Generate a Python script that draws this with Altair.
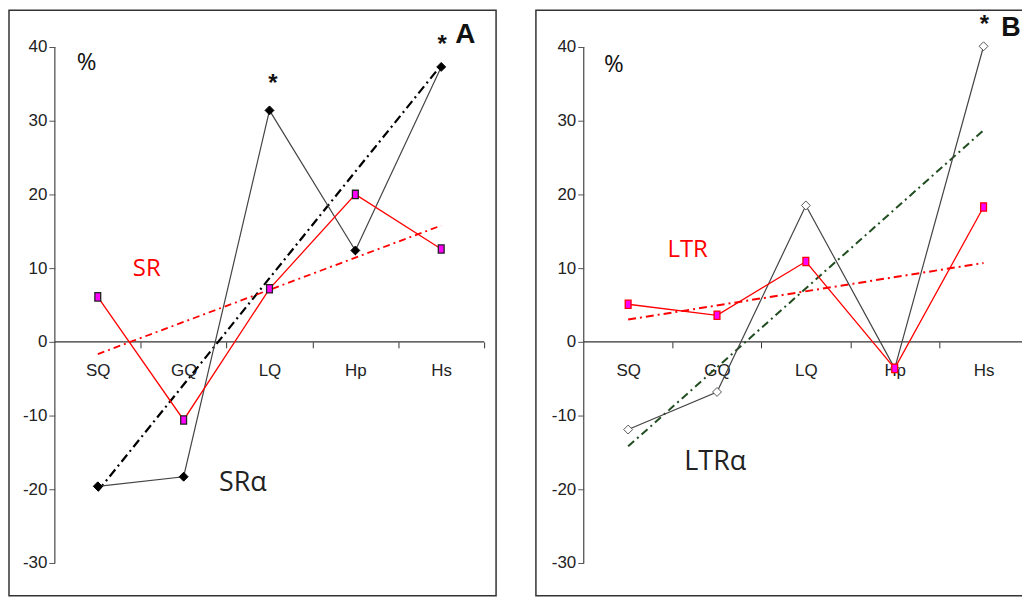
import altair as alt
import pandas as pd

categories = ["SQ", "GQ", "LQ", "Hp", "Hs"]
positions = [1, 2, 3, 4, 5]

sr_alpha = [-19.6, -18.3, 31.4, 12.4, 37.3]
sr = [6.1, -10.6, 7.2, 20.0, 12.6]
ltr_alpha = [-11.9, -6.8, 18.5, -3.6, 40.1]
ltr = [5.1, 3.6, 10.9, -3.6, 18.3]

y_ticks = [-30, -20, -10, 0, 10, 20, 30, 40]
band_edges = [1.5, 2.5, 3.5, 4.5, 5.5]

AXIS_FONT = "Liberation Sans"
TEXT_FONT = "Open Sans"

label_expr = "[" + ",".join("'%s'" % c for c in categories) + "][round(datum.value - 1.5)]"


def make_panel(alpha_vals, plain_vals, alpha_style, plain_style, texts,
               xdom, ydom, width, height, y_off, x_off, band_px):
    xaxis = alt.Axis(values=band_edges, labelExpr=label_expr, labelOffset=-band_px / 2,
                     tickSize=6, tickColor="#333", labelPadding=15, labelFont=AXIS_FONT,
                     labelFontSize=17, labelColor="#222", domain=False, grid=False,
                     labelFlush=False, labelOverlap=False, offset=x_off, title="")
    yaxis = alt.Axis(values=y_ticks, labelExpr="'' + datum.value", tickSize=6, tickColor="#555",
                     labelPadding=2, labelFont=AXIS_FONT, labelFontSize=17, labelColor="#222",
                     domain=False, grid=False, offset=y_off, title="")
    X = alt.X("x:Q", scale=alt.Scale(domain=xdom, nice=False, zero=False), axis=xaxis)
    Y = alt.Y("y:Q", scale=alt.Scale(domain=ydom, nice=False, zero=False), axis=yaxis)

    yrule = alt.Chart(pd.DataFrame({"x": [0.5], "y": [min(y_ticks)], "y2": [max(y_ticks)]})).mark_rule(
        color="#555", strokeWidth=1.3).encode(x=X, y=Y, y2="y2:Q")
    zrule = alt.Chart(pd.DataFrame({"x": [0.5], "x2": [5.5], "y": [0]})).mark_rule(
        color="#333", strokeWidth=1.3).encode(x=X, x2="x2:Q", y=Y)

    layers = [yrule, zrule]
    dfa = pd.DataFrame({"x": positions, "y": alpha_vals})
    dfp = pd.DataFrame({"x": positions, "y": plain_vals})

    # trend lines (linear regression of each series)
    for df, st in ((dfa, alpha_style), (dfp, plain_style)):
        layers.append(alt.Chart(df).transform_regression("x", "y").mark_line(
            color=st["trend_color"], strokeWidth=st["trend_width"], strokeDash=st["dash"]
        ).encode(x=X, y=Y))
    # data lines
    layers.append(alt.Chart(dfa).mark_line(color=alpha_style["line"], strokeWidth=1.2).encode(x=X, y=Y))
    layers.append(alt.Chart(dfp).mark_line(color=plain_style["line"], strokeWidth=1.3).encode(x=X, y=Y))
    # points
    layers.append(alt.Chart(dfa).mark_point(shape="diamond", size=80, filled=True,
                                            fill=alpha_style["fill"], stroke=alpha_style["stroke"],
                                            strokeWidth=1, opacity=1).encode(x=X, y=Y))
    layers.append(alt.Chart(dfp).mark_point(shape="M-0.7,-1L0.7,-1L0.7,1L-0.7,1Z", size=70, filled=True,
                                            fill="#ff00ff", stroke=plain_style["stroke"],
                                            strokeWidth=1.3, opacity=1).encode(x=X, y=Y))
    # annotations
    for t in texts:
        layers.append(alt.Chart(pd.DataFrame({"x": [t["x"]], "y": [t["y"]], "t": [t["t"]]})).mark_text(
            font=t.get("font", TEXT_FONT), fontSize=t["size"], fontWeight=t.get("weight", "normal"),
            color=t["color"], align=t.get("align", "center"), baseline="middle"
        ).encode(x=X, y=Y, text="t:N"))
    return alt.layer(*layers).properties(width=width, height=height)


ydom = [-34.46, 45.0]

left = make_panel(
    sr_alpha, sr,
    {"trend_color": "#000000", "trend_width": 2.2, "dash": [9, 4, 2, 4], "line": "#444",
     "fill": "#000", "stroke": "#000"},
    {"trend_color": "#ff0000", "trend_width": 1.8, "dash": [7, 4, 2, 4], "line": "#ff0000",
     "stroke": "#222"},
    [
        {"t": "%", "x": 0.87, "y": 37.8, "size": 24, "color": "#111"},
        {"t": "SR", "x": 1.57, "y": 9.9, "size": 24, "color": "#ff0000"},
        {"t": "SR\u03b1", "x": 2.69, "y": -19.2, "size": 27, "color": "#222"},
        {"t": "*", "x": 3.04, "y": 35.0, "size": 24, "color": "#111", "weight": "bold", "font": AXIS_FONT},
        {"t": "*", "x": 5.01, "y": 40.3, "size": 24, "color": "#111", "weight": "bold", "font": AXIS_FONT},
        {"t": "A", "x": 5.28, "y": 41.6, "size": 28, "color": "#111", "weight": "bold", "font": AXIS_FONT},
    ],
    [-0.034, 5.639], ydom, 489, 588, -46, -255, 86.2)

right = make_panel(
    ltr_alpha, ltr,
    {"trend_color": "#1f4d1f", "trend_width": 2, "dash": [8, 4, 2, 4], "line": "#444",
     "fill": "#ffffff", "stroke": "#555"},
    {"trend_color": "#ff0000", "trend_width": 2, "dash": [8, 4, 2, 4], "line": "#ff0000",
     "stroke": "#ff0000"},
    [
        {"t": "%", "x": 0.84, "y": 37.6, "size": 24, "color": "#111"},
        {"t": "LTR", "x": 1.67, "y": 12.5, "size": 24, "color": "#ff0000"},
        {"t": "LTR\u03b1", "x": 1.98, "y": -16.3, "size": 27, "color": "#222"},
        {"t": "*", "x": 5.01, "y": 43.0, "size": 24, "color": "#111", "weight": "bold", "font": AXIS_FONT},
        {"t": "B", "x": 5.20, "y": 42.6, "size": 27, "color": "#111", "weight": "bold", "font": AXIS_FONT,
         "align": "left"},
    ],
    [-0.038, 5.511], ydom, 495, 588, -48, -255, 89.2)

chart = alt.hconcat(left, right, spacing=38).properties(
    padding={"left": 0, "top": 0, "right": -8, "bottom": 0},
    background="white",
).configure_view(stroke="#333", strokeWidth=1.5)

chart.save("out.html", embed_options={"renderer": "svg", "actions": False})
